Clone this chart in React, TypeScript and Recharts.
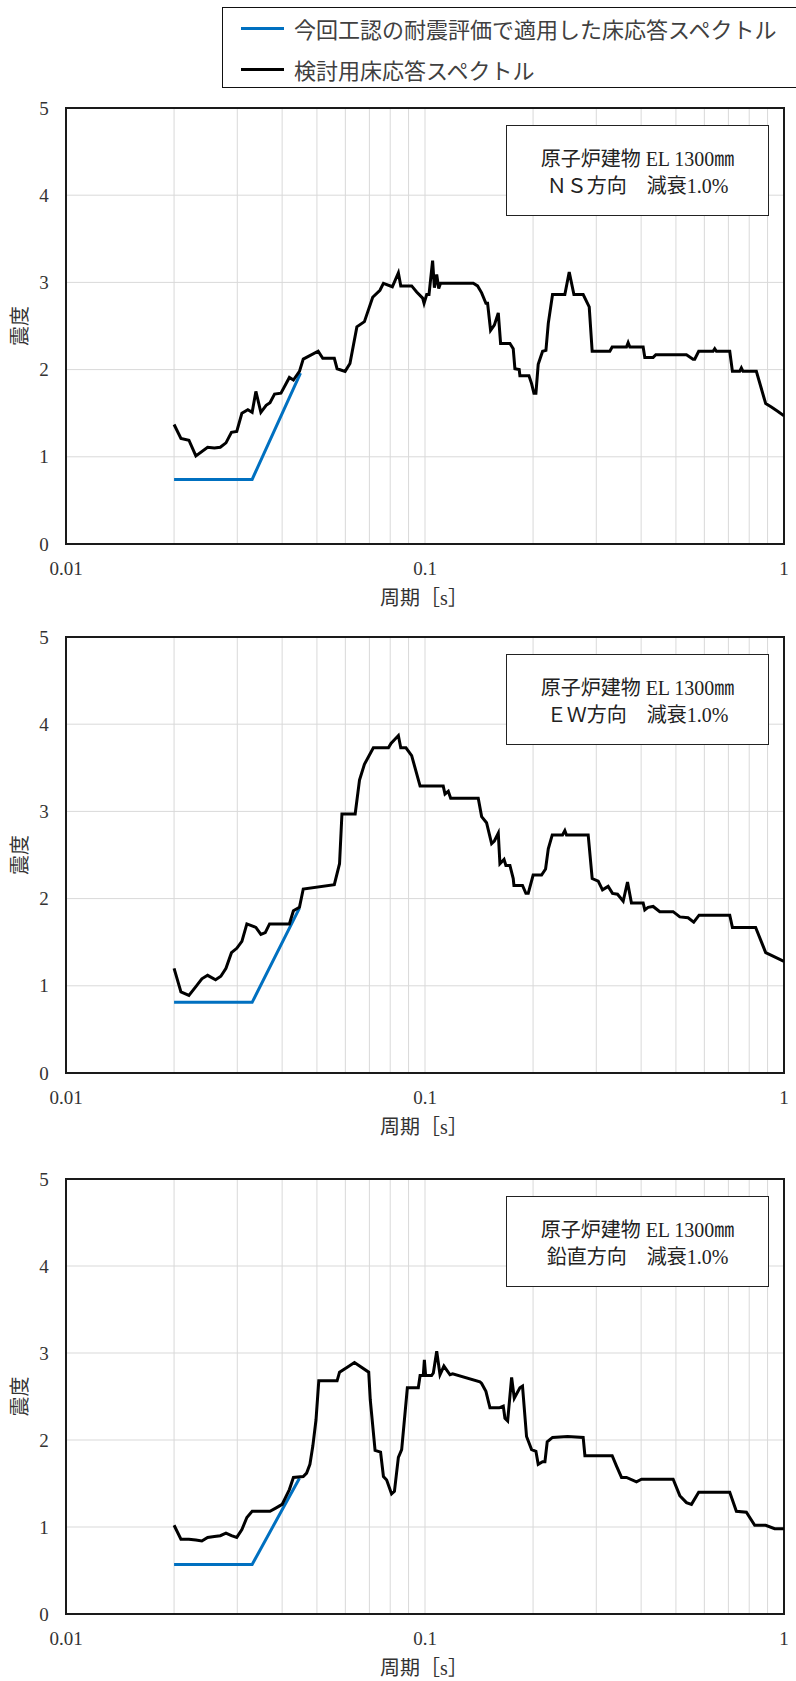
import React from 'react';
import { LineChart, Line, XAxis, YAxis, CartesianGrid, ReferenceArea, Label } from 'recharts';

// period ticks (log axis), only decades get a label
const periodTicks = [
  0.01, 0.02, 0.03, 0.04, 0.05, 0.06, 0.07, 0.08, 0.09,
  0.1, 0.2, 0.3, 0.4, 0.5, 0.6, 0.7, 0.8, 0.9, 1,
];
const periodLabels: Record<string, string> = { '0.01': '0.01', '0.1': '0.1', '1': '1' };
const valueTicks = [0, 1, 2, 3, 4, 5];

const legendNames = ['今回工認の耐震評価で適用した床応答スペクトル', '検討用床応答スペクトル'];
const captionTop = '原子炉建物 EL 1300㎜';
const captionNS = 'ＮＳ方向　減衰1.0%';
const captionEW = 'ＥＷ方向　減衰1.0%';
const captionUD = '鉛直方向　減衰1.0%';

// --- NS ---
const nsPeriod = [
  0.0200, 0.0209, 0.0220, 0.0230, 0.0248, 0.0259, 0.0269, 0.0279, 0.0289, 0.0299,
  0.0309, 0.0321, 0.0330, 0.0338, 0.0349, 0.0361, 0.0370, 0.0381, 0.0397, 0.0419,
  0.0430, 0.0447, 0.0458, 0.0504, 0.0519, 0.0559, 0.0569, 0.0599, 0.0618, 0.0646,
  0.0678, 0.0715, 0.0749, 0.0766, 0.0811, 0.0843, 0.0856, 0.0918, 0.0948, 0.0985,
  0.0994, 0.1011, 0.1026, 0.1050, 0.1062, 0.1078, 0.1092, 0.1105, 0.1363, 0.1401,
  0.1438, 0.1478, 0.1494, 0.1523, 0.1560, 0.1600, 0.1624, 0.1724, 0.1761, 0.1780,
  0.1830, 0.1838, 0.1948, 0.1981, 0.2011, 0.2037, 0.2067, 0.2126, 0.2172, 0.2205,
  0.2266, 0.2452, 0.2522, 0.2599, 0.2758, 0.2867, 0.2922, 0.3272, 0.3322, 0.3641,
  0.3680, 0.3720, 0.4052, 0.4095, 0.4320, 0.4395, 0.5349, 0.5580, 0.5640, 0.5786,
  0.6345, 0.6413, 0.6482, 0.7061, 0.7183, 0.7526, 0.7607, 0.7689, 0.8375, 0.8892,
  0.9221, 0.9622, 1.0,
];
const nsValue = [
  1.37, 1.21, 1.19, 1.01, 1.11, 1.10, 1.11, 1.16, 1.28, 1.29,
  1.50, 1.54, 1.51, 1.75, 1.51, 1.59, 1.62, 1.72, 1.73, 1.91,
  1.88, 1.98, 2.12, 2.21, 2.13, 2.13, 2.01, 1.98, 2.07, 2.49,
  2.55, 2.83, 2.91, 2.99, 2.95, 3.11, 2.96, 2.96, 2.89, 2.82,
  2.76, 2.86, 2.86, 3.25, 2.94, 3.09, 2.93, 2.99, 2.99, 2.96,
  2.88, 2.76, 2.76, 2.45, 2.51, 2.65, 2.30, 2.30, 2.24, 2.01,
  2.00, 1.93, 1.93, 1.84, 1.73, 1.73, 2.06, 2.21, 2.22, 2.53,
  2.86, 2.86, 3.12, 2.86, 2.86, 2.72, 2.21, 2.21, 2.26, 2.26,
  2.31, 2.26, 2.26, 2.14, 2.14, 2.17, 2.17, 2.12, 2.12, 2.21,
  2.21, 2.24, 2.21, 2.21, 1.98, 1.98, 2.02, 1.98, 1.98, 1.61,
  1.57, 1.52, 1.47,
];
const nsDesignPeriod = [0.02, 0.033, 0.045];
const nsDesignValue = [0.74, 0.74, 1.96];

// --- EW ---
const ewPeriod = [
  0.0200, 0.0209, 0.0220, 0.0230, 0.0239, 0.0248, 0.0261, 0.0270, 0.0279, 0.0289,
  0.0299, 0.0309, 0.0319, 0.0338, 0.0349, 0.0359, 0.0369, 0.0419, 0.0430, 0.0447,
  0.0458, 0.0559, 0.0578, 0.0587, 0.0639, 0.0657, 0.0678, 0.0718, 0.0791, 0.0804,
  0.0843, 0.0856, 0.0885, 0.0918, 0.0969, 0.1124, 0.1137, 0.1161, 0.1179, 0.1407,
  0.1438, 0.1484, 0.1533, 0.1560, 0.1600, 0.1617, 0.1660, 0.1680, 0.1724, 0.1761,
  0.1769, 0.1869, 0.1910, 0.1939, 0.2001, 0.2112, 0.2167, 0.2205, 0.2262, 0.2416,
  0.2452, 0.2478, 0.2848, 0.2922, 0.3037, 0.3122, 0.3237, 0.3329, 0.3438, 0.3565,
  0.3665, 0.3759, 0.4052, 0.4095, 0.4183, 0.4320, 0.4508, 0.4911, 0.5126, 0.5405,
  0.5605, 0.5800, 0.7061, 0.7183, 0.8337, 0.8892, 0.9320, 1.0,
];
const ewValue = [
  1.20, 0.93, 0.89, 0.99, 1.08, 1.12, 1.07, 1.11, 1.20, 1.38,
  1.43, 1.51, 1.71, 1.67, 1.59, 1.61, 1.71, 1.71, 1.86, 1.90,
  2.11, 2.16, 2.40, 2.97, 2.97, 3.36, 3.54, 3.73, 3.73, 3.78,
  3.87, 3.73, 3.73, 3.64, 3.29, 3.29, 3.20, 3.23, 3.15, 3.15,
  2.94, 2.87, 2.63, 2.66, 2.75, 2.40, 2.45, 2.38, 2.38, 2.23,
  2.15, 2.15, 2.06, 2.06, 2.27, 2.27, 2.34, 2.57, 2.73, 2.73,
  2.78, 2.73, 2.73, 2.23, 2.20, 2.10, 2.14, 2.06, 2.05, 1.97,
  2.19, 1.95, 1.95, 1.87, 1.90, 1.91, 1.85, 1.85, 1.79, 1.78,
  1.73, 1.81, 1.81, 1.67, 1.67, 1.38, 1.34, 1.28,
];
const ewDesignPeriod = [0.02, 0.033, 0.0447];
const ewDesignValue = [0.81, 0.81, 1.89];

// --- 鉛直 ---
const udPeriod = [
  0.0200, 0.0209, 0.0220, 0.0230, 0.0239, 0.0248, 0.0259, 0.0269, 0.0279, 0.0289,
  0.0299, 0.0309, 0.0319, 0.0330, 0.0370, 0.0385, 0.0400, 0.0419, 0.0430, 0.0458,
  0.0468, 0.0478, 0.0487, 0.0497, 0.0506, 0.0569, 0.0578, 0.0609, 0.0636, 0.0697,
  0.0704, 0.0726, 0.0752, 0.0766, 0.0782, 0.0807, 0.0822, 0.0843, 0.0861, 0.0893,
  0.0958, 0.0969, 0.0989, 0.0996, 0.1004, 0.1043, 0.1055, 0.1078, 0.1101, 0.1129,
  0.1174, 0.1194, 0.1422, 0.1438, 0.1478, 0.1517, 0.1610, 0.1652, 0.1670, 0.1699,
  0.1743, 0.1773, 0.1838, 0.1869, 0.1918, 0.1981, 0.2037, 0.2067, 0.2126, 0.2158,
  0.2190, 0.2266, 0.2495, 0.2758, 0.2789, 0.3322, 0.3416, 0.3527, 0.3641, 0.3882,
  0.4009, 0.4911, 0.5126, 0.5349, 0.5524, 0.5786, 0.7061, 0.7368, 0.7856, 0.8287,
  0.8892, 0.9419, 1.0,
];
const udValue = [
  1.02, 0.86, 0.86, 0.85, 0.84, 0.88, 0.89, 0.90, 0.93, 0.90,
  0.88, 0.97, 1.11, 1.18, 1.18, 1.22, 1.26, 1.43, 1.57, 1.58,
  1.62, 1.72, 1.93, 2.23, 2.68, 2.68, 2.78, 2.84, 2.89, 2.78,
  2.46, 1.88, 1.86, 1.58, 1.54, 1.38, 1.41, 1.80, 1.89, 2.60,
  2.60, 2.74, 2.74, 2.92, 2.74, 2.74, 2.77, 3.02, 2.75, 2.85,
  2.75, 2.76, 2.67, 2.65, 2.56, 2.37, 2.37, 2.39, 2.25, 2.22,
  2.72, 2.48, 2.60, 2.62, 2.04, 1.89, 1.87, 1.72, 1.75, 1.75,
  1.98, 2.03, 2.04, 2.03, 1.82, 1.82, 1.70, 1.57, 1.57, 1.52,
  1.55, 1.55, 1.36, 1.28, 1.26, 1.40, 1.40, 1.18, 1.17, 1.02,
  1.02, 0.98, 0.98,
];
const udDesignPeriod = [0.02, 0.033, 0.0447];
const udDesignValue = [0.57, 0.57, 1.56];

const zip = (t: number[], v: number[]) => t.map((p, i) => ({ t: p, v: v[i] }));

const SERIF = "'Liberation Serif', 'Noto Sans CJK JP', serif";
const SANS = "'Noto Sans CJK JP', 'Noto Sans', sans-serif";
const BLUE = '#0070C0';

const MARGIN_TOP = 20;
const XAXIS_H = 70;

const XTick = (props: any) => {
  const { x, y, payload } = props;
  const label = periodLabels[String(payload.value)];
  if (!label) return <g />;
  return (
    <text x={x} y={y + 31} textAnchor="middle" fill="#333" style={{ fontFamily: SERIF, fontSize: 19 }}>
      {label}
    </text>
  );
};

const YTick = (props: any) => {
  const { y, payload } = props;
  return (
    <text x={44} y={y + 6.5} textAnchor="middle" fill="#333" style={{ fontFamily: SERIF, fontSize: 19 }}>
      {payload.value}
    </text>
  );
};

function Panel({ top, plotHeight, black, blue, caption }: {
  top: number; plotHeight: number;
  black: { t: number; v: number }[]; blue: { t: number; v: number }[];
  caption: string;
}) {
  return (
    <div style={{ position: 'absolute', left: 0, top: top - MARGIN_TOP, width: 796 }}>
      <LineChart
        width={796}
        height={MARGIN_TOP + plotHeight + XAXIS_H}
        margin={{ top: MARGIN_TOP, right: 12, bottom: 0, left: 0 }}
      >
        <CartesianGrid stroke="#d9d9d9" strokeWidth={1} />
        <XAxis
          type="number"
          dataKey="t"
          scale="log"
          domain={[0.01, 1]}
          allowDataOverflow
          ticks={periodTicks}
          interval={0}
          tickSize={0}
          tickMargin={0}
          axisLine={false}
          height={XAXIS_H}
          tick={XTick}
        >
          <Label
            content={(p: any) => {
              const vb = p.viewBox || { x: 66, y: MARGIN_TOP + plotHeight, width: 718 };
              return (
                <text x={vb.x + vb.width / 2 - 1} y={vb.y + 61} textAnchor="middle"
                  fill="#333" style={{ fontFamily: SERIF, fontSize: 20 }}>
                  周期［s］
                </text>
              );
            }}
          />
        </XAxis>
        <YAxis
          type="number"
          domain={[0, 5]}
          ticks={valueTicks}
          interval={0}
          width={66}
          tickSize={0}
          tickMargin={0}
          axisLine={false}
          tick={YTick}
        >
          <Label
            content={(p: any) => {
              const vb = p.viewBox || { y: MARGIN_TOP, height: plotHeight };
              const cy = vb.y + vb.height / 2;
              return (
                <text x={20} y={cy} dy="0.35em" textAnchor="middle" transform={`rotate(-90 20 ${cy})`}
                  fill="#333" style={{ fontFamily: SERIF, fontSize: 20 }}>
                  震度
                </text>
              );
            }}
          />
        </YAxis>
        <Line data={blue} dataKey="v" name={legendNames[0]} type="linear" stroke={BLUE}
          strokeWidth={3} dot={false} activeDot={false} isAnimationActive={false} />
        <Line data={black} dataKey="v" name={legendNames[1]} type="linear" stroke="#000"
          strokeWidth={3} dot={false} activeDot={false} isAnimationActive={false} />
        <ReferenceArea x1={0.01} x2={1} y1={0} y2={5} fill="none" fillOpacity={0}
          stroke="#1a1a1a" strokeWidth={2} ifOverflow="visible" />
      </LineChart>
      <div
        style={{
          position: 'absolute', left: 506, top: MARGIN_TOP + 17, width: 263, height: 91,
          boxSizing: 'border-box', border: '1px solid #222', background: '#fff',
          display: 'flex', flexDirection: 'column', justifyContent: 'center', alignItems: 'center',
          fontFamily: SERIF, fontSize: 20, lineHeight: '26.7px', color: '#222', paddingTop: 4,
        }}
      >
        <div>{captionTop}</div>
        <div>{caption}</div>
      </div>
    </div>
  );
}

export default function App() {
  return (
    <div style={{ position: 'absolute', left: 0, top: 0, width: 796, height: 1681, background: '#fff', overflow: 'hidden' }}>
      {/* shared legend */}
      <div
        style={{
          position: 'absolute', left: 222, top: 7, width: 600, height: 81, boxSizing: 'border-box',
          border: '1.3px solid #111', fontFamily: SANS, fontSize: 22, color: '#404040',
        }}
      >
        {legendNames.map((name, i) => (
          <div key={name} style={{ position: 'absolute', left: 18, top: i === 0 ? 6 : 47, height: 28, display: 'flex', alignItems: 'center', whiteSpace: 'nowrap' }}>
            <span style={{ display: 'inline-block', width: 43, height: 3, background: i === 0 ? BLUE : '#000', marginRight: 10 }} />
            <span>{name}</span>
          </div>
        ))}
      </div>
      <Panel top={108} plotHeight={436} black={zip(nsPeriod, nsValue)} blue={zip(nsDesignPeriod, nsDesignValue)} caption={captionNS} />
      <Panel top={637} plotHeight={436} black={zip(ewPeriod, ewValue)} blue={zip(ewDesignPeriod, ewDesignValue)} caption={captionEW} />
      <Panel top={1179} plotHeight={435} black={zip(udPeriod, udValue)} blue={zip(udDesignPeriod, udDesignValue)} caption={captionUD} />
    </div>
  );
}
